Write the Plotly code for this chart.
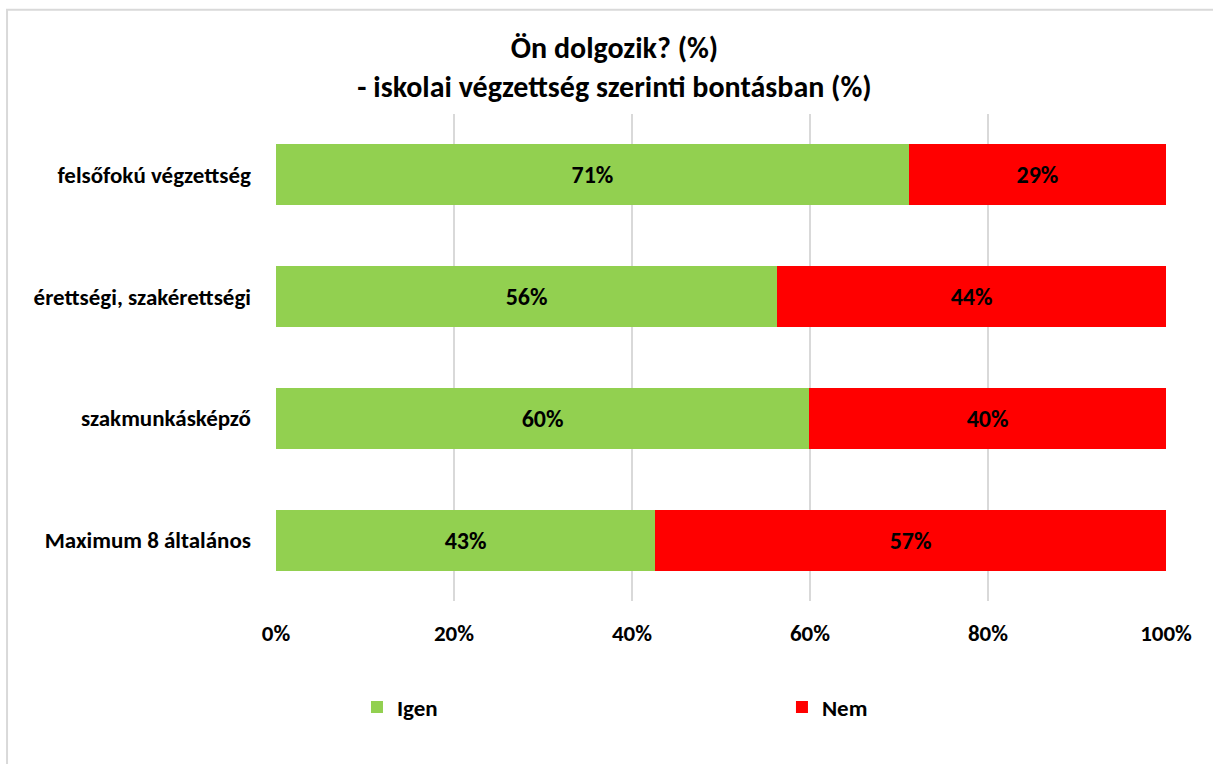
import plotly.graph_objects as go

categories = ["felsőfokú végzettség", "érettségi, szakérettségi", "szakmunkásképző", "Maximum 8 általános"]
igen = [71.1, 56.3, 59.9, 42.6]
nem = [28.9, 43.7, 40.1, 57.4]
series_names = ["Igen", "Nem"]
colors = ["#92D050", "#FF0000"]
tick_vals = [0, 20, 40, 60, 80, 100]
tick_text = ["0%", "20%", "40%", "60%", "80%", "100%"]
title_lines = ["Ön dolgozik? (%)", "- iskolai végzettség szerinti bontásban (%)"]

FONT = "Carlito, Calibri, Lato, sans-serif"

fig = go.Figure()
legend_ids = ["legend", "legend2"]
for name, vals, col, lg in zip(series_names, [igen, nem], colors, legend_ids):
    fig.add_trace(go.Bar(
        y=categories, x=vals, name=name, orientation="h",
        marker=dict(color=col, line=dict(width=0)),
        texttemplate="%{x:.0f}%", textposition="inside",
        insidetextanchor="middle",
        textfont=dict(family=FONT, size=24, color="black", weight="bold"),
        width=0.5, legend=lg, showlegend=True,
    ))

legend_font = dict(family=FONT, size=23, color="black", weight="bold")

fig.update_layout(
    barmode="stack",
    width=1213, height=764,
    showlegend=True,
    paper_bgcolor="white", plot_bgcolor="white",
    margin=dict(l=276, r=47, t=113.5, b=162.5, autoexpand=False),
    font=dict(family=FONT, color="black"),
    title=dict(
        text="<br>".join(title_lines),
        x=0.5066, xref="container", xanchor="center",
        y=0.9247, yref="container", yanchor="middle",
        font=dict(family=FONT, size=30, color="black", weight="bold"),
    ),
    xaxis=dict(
        range=[0, 100], tickvals=tick_vals, ticktext=tick_text,
        showgrid=True, gridcolor="#D9D9D9", gridwidth=1.5,
        zeroline=False, showline=False, ticks="",
        tickfont=dict(family=FONT, size=23, color="black", weight="bold"),
        ticklabelstandoff=16,
    ),
    yaxis=dict(
        autorange="reversed", showgrid=False, zeroline=False, showline=False,
        ticks="", ticklabelstandoff=24,
        tickfont=dict(family=FONT, size=23, color="black", weight="bold"),
    ),
    legend=dict(
        orientation="h", x=0.091, xanchor="left", y=-0.218, yanchor="middle",
        font=legend_font, bgcolor="rgba(0,0,0,0)", visible=True,
    ),
    legend2=dict(
        orientation="h", x=0.5685, xanchor="left", y=-0.218, yanchor="middle",
        font=legend_font, bgcolor="rgba(0,0,0,0)", visible=True,
    ),
    shapes=[dict(
        type="rect", xref="paper", yref="paper",
        x0=-0.3022, x1=1.3, y0=-0.5, y1=1.2141,
        line=dict(color="#D9D9D9", width=2), layer="below",
    )],
)

fig.write_html("out.html", config={"displayModeBar": False},
               post_script="document.body.style.margin='0';")
